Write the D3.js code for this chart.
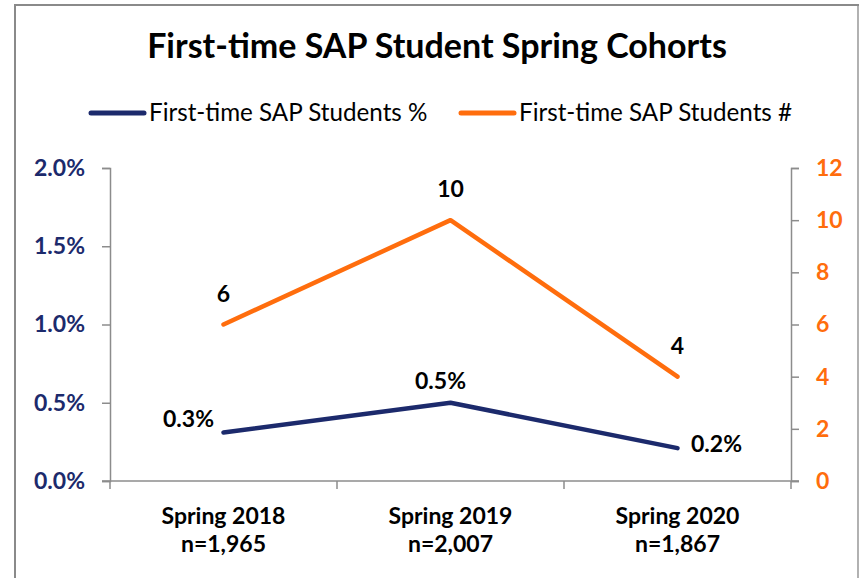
<!DOCTYPE html>
<html>
<head>
<meta charset="utf-8">
<script src="https://cdn.jsdelivr.net/npm/d3@7"></script>
<style>
  body { margin: 0; background: #fff; }
  text { font-family: Lato, "Open Sans", sans-serif; }
</style>
</head>
<body>
<script>
const width = 859;
const height = 578;

// data
const cohorts = ['Spring 2018', 'Spring 2019', 'Spring 2020'];
const cohortSizes = ['n=1,965', 'n=2,007', 'n=1,867'];
const sapPercent = [0.31, 0.50, 0.21];
const sapCount = [6, 10, 4];
const percentLabels = ['0.3%', '0.5%', '0.2%'];
const percentTicks = [0, 0.5, 1.0, 1.5, 2.0];
const countTicks = [0, 2, 4, 6, 8, 10, 12];

const navy = '#1c2a6c';
const orange = '#ff6d0d';
const axisGrey = '#8c8c8c';

const margin = { top: 168, right: 68, bottom: 97, left: 110 };

const svg = d3.select('body').append('svg')
  .attr('width', width)
  .attr('height', height);

// chart frame
svg.append('rect')
  .attr('x', 15)
  .attr('y', 5)
  .attr('width', width - 16)
  .attr('height', height + 10)
  .attr('fill', 'none')
  .attr('stroke', '#8a8a8a')
  .attr('stroke-width', 2);
svg.append('line')
  .attr('x1', width - 1).attr('x2', width - 1)
  .attr('y1', 6).attr('y2', height)
  .attr('stroke', '#d9d9d9');

const x = d3.scaleBand()
  .domain(cohorts)
  .range([margin.left, width - margin.right]);

const yPct = d3.scaleLinear()
  .domain([0, 2])
  .range([height - margin.bottom, margin.top]);

const yCnt = d3.scaleLinear()
  .domain([0, 12])
  .range([height - margin.bottom, margin.top]);

const cx = d => x(d) + x.bandwidth() / 2;

// title
svg.append('text')
  .attr('x', 437)
  .attr('y', 58)
  .attr('text-anchor', 'middle')
  .attr('font-size', 34)
  .attr('font-weight', 'bold')
  .attr('fill', '#000')
  .text('First-time SAP Student Spring Cohorts');

// legend
const legend = [
  { name: 'First-time SAP Students %', color: navy, x: 89 },
  { name: 'First-time SAP Students #', color: orange, x: 459 }
];
const lg = svg.append('g').selectAll('g')
  .data(legend)
  .enter().append('g')
    .attr('transform', d => `translate(${d.x}, 113)`);
lg.append('line')
  .attr('x1', 2).attr('x2', 55)
  .attr('stroke', d => d.color)
  .attr('stroke-width', 5)
  .attr('stroke-linecap', 'round');
lg.append('text')
  .attr('x', 60)
  .attr('dy', 8)
  .attr('font-size', 24.2)
  .attr('fill', '#000')
  .text(d => d.name);

// axes
const axisStyle = g => {
  g.selectAll('.domain, .tick line')
    .attr('stroke', axisGrey)
    .attr('stroke-width', 1.5);
  g.selectAll('text')
    .attr('font-size', 23)
    .attr('font-weight', 'bold')
    .attr('font-family', 'Lato, "Open Sans", sans-serif');
};

svg.append('g')
  .attr('transform', `translate(${margin.left}, 0)`)
  .call(d3.axisLeft(yPct)
    .tickValues(percentTicks)
    .tickFormat(d => d.toFixed(1) + '%')
    .tickSizeOuter(0)
    .tickSize(8)
    .tickPadding(17))
  .call(axisStyle)
  .call(g => g.selectAll('text').attr('fill', navy));

svg.append('g')
  .attr('transform', `translate(${width - margin.right}, 0)`)
  .call(d3.axisRight(yCnt)
    .tickValues(countTicks)
    .tickSizeOuter(0)
    .tickSize(8)
    .tickPadding(17))
  .call(axisStyle)
  .call(g => g.selectAll('text').attr('fill', orange));

// bottom axis with ticks between categories
const xAxis = svg.append('g')
  .attr('transform', `translate(0, ${height - margin.bottom})`);
xAxis.append('line')
  .attr('x1', margin.left - 8)
  .attr('x2', width - margin.right + 8)
  .attr('stroke', axisGrey)
  .attr('stroke-width', 1.5);
xAxis.selectAll('.sep')
  .data(cohorts.concat(['end']))
  .enter().append('line')
    .attr('class', 'sep')
    .attr('x1', (d, i) => i < cohorts.length ? x(d) : x(cohorts[i - 1]) + x.bandwidth())
    .attr('x2', (d, i) => i < cohorts.length ? x(d) : x(cohorts[i - 1]) + x.bandwidth())
    .attr('y1', 0)
    .attr('y2', 8)
    .attr('stroke', axisGrey)
    .attr('stroke-width', 1.5);
const catLabel = xAxis.selectAll('.cat')
  .data(cohorts)
  .enter().append('text')
    .attr('class', 'cat')
    .attr('text-anchor', 'middle')
    .attr('font-size', 23)
    .attr('font-weight', 'bold')
    .attr('fill', '#000');
catLabel.append('tspan')
  .attr('x', d => cx(d))
  .attr('y', 43)
  .text(d => d);
catLabel.append('tspan')
  .attr('x', d => cx(d))
  .attr('y', 71)
  .text((d, i) => cohortSizes[i]);

// lines
const pctLine = d3.line()
  .x((d, i) => cx(cohorts[i]))
  .y(d => yPct(d));
const cntLine = d3.line()
  .x((d, i) => cx(cohorts[i]))
  .y(d => yCnt(d));

svg.append('path')
  .datum(sapCount)
  .attr('d', cntLine)
  .attr('fill', 'none')
  .attr('stroke', orange)
  .attr('stroke-width', 4.5)
  .attr('stroke-linecap', 'round')
  .attr('stroke-linejoin', 'round');

svg.append('path')
  .datum(sapPercent)
  .attr('d', pctLine)
  .attr('fill', 'none')
  .attr('stroke', navy)
  .attr('stroke-width', 4.5)
  .attr('stroke-linecap', 'round')
  .attr('stroke-linejoin', 'round');

// data labels
svg.append('g').selectAll('text')
  .data(sapCount)
  .enter().append('text')
    .attr('x', (d, i) => cx(cohorts[i]))
    .attr('y', d => yCnt(d) - 23)
    .attr('text-anchor', 'middle')
    .attr('font-size', 23)
    .attr('font-weight', 'bold')
    .attr('fill', '#000')
    .text(d => d);

// % labels: left, above, right of the point
const pctDx = [-35, -10, 39];
const pctDy = [-5, -14, 4];
svg.append('g').selectAll('text')
  .data(sapPercent)
  .enter().append('text')
    .attr('x', (d, i) => cx(cohorts[i]) + pctDx[i])
    .attr('y', (d, i) => yPct(d) + pctDy[i])
    .attr('text-anchor', 'middle')
    .attr('font-size', 23)
    .attr('font-weight', 'bold')
    .attr('fill', '#000')
    .text((d, i) => percentLabels[i]);
</script>
</body>
</html>
